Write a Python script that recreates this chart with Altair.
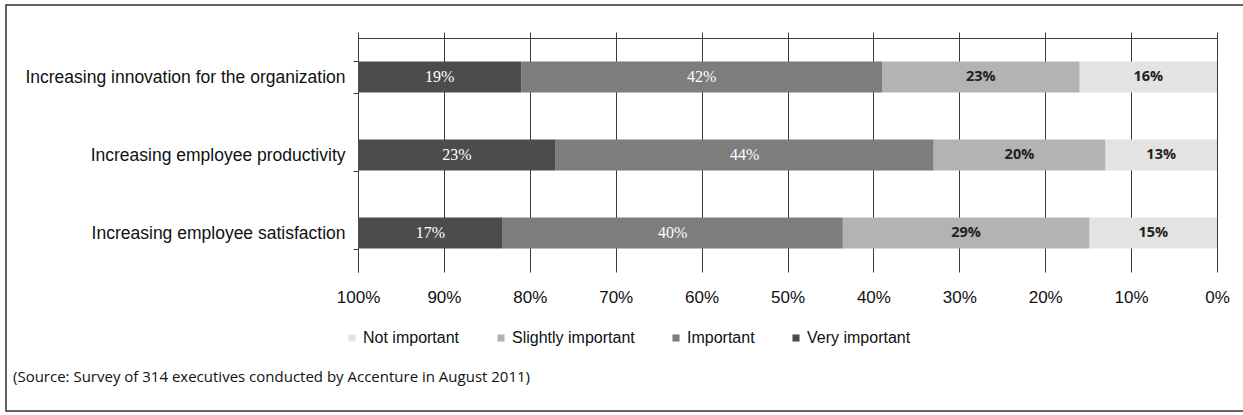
import altair as alt
import pandas as pd

items = [
    "Increasing innovation for the organization",
    "Increasing employee productivity",
    "Increasing employee satisfaction",
]
levels = ["Not important", "Slightly important", "Important", "Very important"]
not_important = [16, 13, 15]
slightly_important = [23, 20, 29]
important = [42, 44, 40]
very_important = [19, 23, 17]
level_colors = ["#e3e3e3", "#b3b3b3", "#7d7d7d", "#4c4c4c"]
x_tick_values = [0, 0.1, 0.2, 0.3, 0.4, 0.5, 0.6, 0.7, 0.8, 0.9, 1.0]
source_note = ["(Source: Survey of 314 executives conducted by Accenture in August 2011)"]

rows = []
series = [not_important, slightly_important, important, very_important]
for i, item in enumerate(items):
    for j, lvl in enumerate(levels):
        rows.append({"item": item, "level": lvl, "order": j, "value": series[j][i]})
df = pd.DataFrame(rows)
note_df = pd.DataFrame({"note": source_note})

W, H = 859, 234

x_scale = alt.Scale(domain=[0, 1], reverse=True, nice=False)
y_scale = alt.Scale(domain=items, paddingInner=0.6, paddingOuter=0.3)
y_axis = alt.Axis(
    title=None,
    domain=True,
    domainColor="#3a3a3a",
    ticks=True,
    tickBand="extent",
    tickSize=5,
    tickColor="#3a3a3a",
    labelFontSize=17.5,
    labelColor="#111",
    labelPadding=8,
    labelLimit=500,
)

base = (
    alt.Chart(df)
    .transform_stack(
        stack="value",
        groupby=["item"],
        sort=[alt.SortField("order", order="ascending")],
        as_=["x0", "x1"],
        offset="normalize",
    )
    .transform_calculate(mid="(datum.x0 + datum.x1) / 2", label="datum.value + '%'")
)

bars = base.mark_bar().encode(
    x=alt.X(
        "x0:Q",
        scale=x_scale,
        axis=alt.Axis(
            orient="bottom",
            values=x_tick_values,
            format=".0%",
            grid=True,
            gridColor="#3a3a3a",
            gridWidth=1,
            domain=False,
            ticks=False,
            labelFlush=False,
            labelFontSize=17,
            labelColor="#111",
            labelPadding=17,
            title=None,
        ),
    ),
    x2="x1:Q",
    y=alt.Y("item:N", scale=y_scale, axis=y_axis),
    color=alt.Color(
        "level:N",
        scale=alt.Scale(domain=levels, range=level_colors),
        legend=alt.Legend(
            title=None,
            orient="none",
            legendX=-14,
            legendY=292,
            direction="horizontal",
            symbolType="square",
            symbolSize=50,
            symbolStrokeWidth=0,
            labelFontSize=16,
            labelColor="#111",
            columnPadding=33,
            labelOffset=3,
        ),
    ),
    order=alt.Order("order:Q"),
)

text_dark = base.transform_filter("datum.order >= 2").mark_text(
    font="Liberation Serif", fontSize=16, color="white"
).encode(
    x=alt.X(
        "mid:Q",
        scale=x_scale,
        axis=alt.Axis(
            orient="top",
            values=x_tick_values,
            labels=False,
            ticks=True,
            tickSize=6,
            tickColor="#3a3a3a",
            domain=True,
            domainColor="#3a3a3a",
            grid=False,
            title=None,
        ),
    ),
    y=alt.Y("item:N", scale=y_scale, axis=y_axis),
    text="label:N",
)

text_light = base.transform_filter("datum.order < 2").mark_text(
    font="Open Sans", fontSize=14.5, fontWeight="bold", color="#222"
).encode(
    x=alt.X("mid:Q", scale=x_scale, axis=None),
    y=alt.Y("item:N", scale=y_scale, axis=y_axis),
    text="label:N",
)

note = alt.Chart(note_df).mark_text(
    font="Open Sans", fontSize=15, align="left", baseline="middle", color="#111"
).encode(x=alt.value(-345), y=alt.value(339), text="note:N")

frame = alt.Chart(note_df).mark_rect(
    filled=False, stroke="#333", strokeWidth=1.5
).encode(x=alt.value(-352), x2=alt.value(900), y=alt.value(-33), y2=alt.value(373))

chart = (
    alt.layer(bars, text_dark, text_light, note, frame)
    .resolve_axis(x="independent")
    .properties(
        width=W,
        height=H,
        autosize=alt.AutoSizeParams(type="none"),
        padding={"left": 358, "top": 38, "right": 26, "bottom": 143},
    )
    .configure(font="Liberation Sans")
    .configure_view(stroke=None)
)

chart.save("out.html", embed_options={"renderer": "svg", "actions": False})
